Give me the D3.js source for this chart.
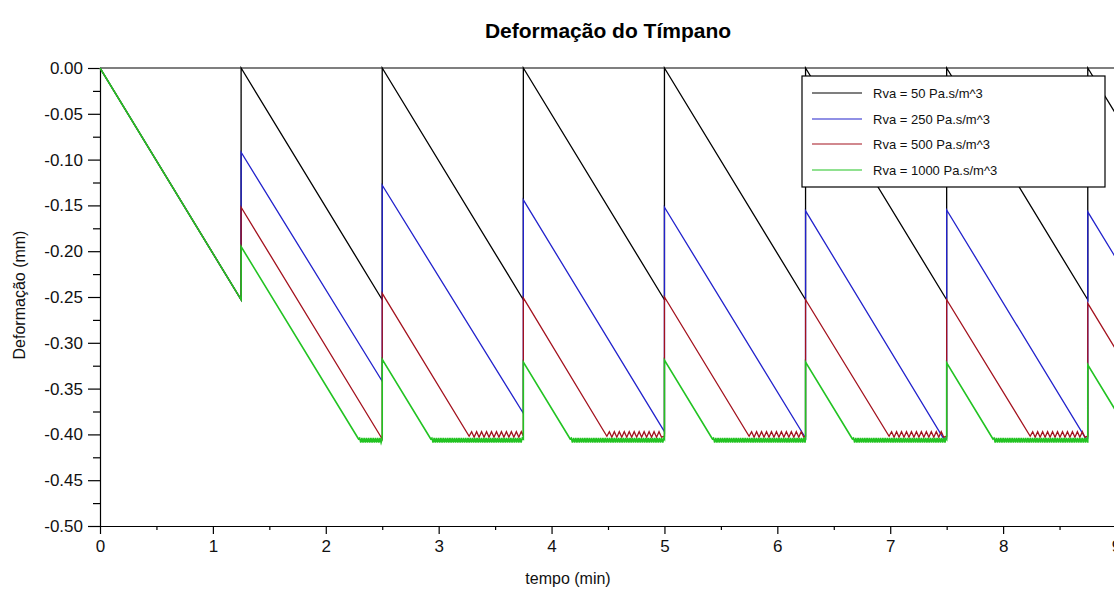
<!DOCTYPE html>
<html>
<head>
<meta charset="utf-8">
<script src="https://cdn.jsdelivr.net/npm/d3@7"></script>
<style>
  html, body { margin: 0; padding: 0; background: #fff; }
  svg { display: block; font-family: "Liberation Sans", Arial, Helvetica, sans-serif; }
</style>
</head>
<body>
<svg id="chart" width="1114" height="596"></svg>
<script>
// ---------- data ----------
const title = "Deformação do Tímpano";
const xLabel = "tempo (min)";
const yLabel = "Deformação (mm)";

const xTicks = [0, 1, 2, 3, 4, 5, 6, 7, 8, 9];
const xTickLabels = ["0", "1", "2", "3", "4", "5", "6", "7", "8", "9"];
const xMinorTicks = [0.5, 1.5, 2.5, 3.5, 4.5, 5.5, 6.5, 7.5, 8.5];
const yTicks = [0, -0.05, -0.10, -0.15, -0.20, -0.25, -0.30, -0.35, -0.40, -0.45, -0.50];
const yTickLabels = ["0.00", "-0.05", "-0.10", "-0.15", "-0.20", "-0.25", "-0.30", "-0.35", "-0.40", "-0.45", "-0.50"];
const yMinorTicks = [-0.025, -0.075, -0.125, -0.175, -0.225, -0.275, -0.325, -0.375, -0.425, -0.475];

const seriesNames = ["Rva = 50 Pa.s/m^3", "Rva = 250 Pa.s/m^3", "Rva = 500 Pa.s/m^3", "Rva = 1000 Pa.s/m^3"];
const seriesColors = ["#000000", "#2222cc", "#a3121e", "#22c322"];
const seriesWidths = [1.3, 1.3, 1.3, 1.6];

// vertices [t, value, rippleFlag]; rippleFlag 1 = segment to next vertex is the rippled floor
const rva50 = [
  [0, 0], [1.25, -0.253], [1.25, 0], [2.5, -0.253], [2.5, 0], [3.75, -0.253], [3.75, 0],
  [5, -0.253], [5, 0], [6.25, -0.253], [6.25, 0], [7.5, -0.253], [7.5, 0], [8.75, -0.253], [8.75, 0], [10, -0.253]
];
const rva250 = [
  [0, 0], [1.25, -0.253], [1.25, -0.092], [2.5, -0.342], [2.5, -0.128], [3.75, -0.377], [3.75, -0.144],
  [5, -0.397], [5, -0.152], [6.25, -0.404], [6.25, -0.156], [7.47, -0.404], [7.5, -0.404], [7.5, -0.155],
  [8.73, -0.404], [8.75, -0.404], [8.75, -0.157], [10, -0.410]
];
const rva500 = [
  [0, 0], [1.25, -0.253], [1.25, -0.152], [2.5, -0.405], [2.5, -0.246], [3.27, -0.402, 1], [3.75, -0.402],
  [3.75, -0.251], [4.49, -0.402, 1], [5, -0.402], [5, -0.250], [5.75, -0.402, 1], [6.25, -0.402],
  [6.25, -0.253], [6.99, -0.402, 1], [7.5, -0.402], [7.5, -0.253], [8.24, -0.402, 1], [8.75, -0.402],
  [8.75, -0.257], [10, -0.510]
];
const rva1000 = [
  [0, 0], [1.25, -0.253], [1.25, -0.195], [2.29, -0.405, 1], [2.5, -0.405], [2.5, -0.318], [2.93, -0.405, 1],
  [3.75, -0.405], [3.75, -0.321], [4.165, -0.405, 1], [5, -0.405], [5, -0.319], [5.425, -0.405, 1],
  [6.25, -0.405], [6.25, -0.321], [6.665, -0.405, 1], [7.5, -0.405], [7.5, -0.322], [7.91, -0.405, 1],
  [8.75, -0.405], [8.75, -0.324], [9.15, -0.405, 1], [10, -0.405]
];
// ripple on the floor segments: [period (min), high value, low value]
const rippleRva500 = [0.044, -0.397, -0.403];
const rippleRva1000 = [0.02, -0.404, -0.409];

// ---------- drawing ----------
const svg = d3.select("#chart");
svg.append("rect").attr("width", 1114).attr("height", 596).attr("fill", "#fff");

const x = d3.scaleLinear().domain([0, 9]).range([100, 1116]);
const y = d3.scaleLinear().domain([-0.5, 0]).range([526, 68]);

svg.append("defs").append("clipPath").attr("id", "plotclip")
  .append("rect").attr("x", 99).attr("y", 60).attr("width", 1030).attr("height", 470);

// title & labels
svg.append("text").attr("x", 608).attr("y", 38).attr("text-anchor", "middle")
  .attr("font-size", 21).attr("font-weight", "bold").attr("fill", "#000").text(title);
svg.append("text").attr("x", 568).attr("y", 584).attr("text-anchor", "middle")
  .attr("font-size", 16).attr("fill", "#111").text(xLabel);
svg.append("text").attr("transform", "translate(25,295) rotate(-90)").attr("text-anchor", "middle")
  .attr("font-size", 16).attr("fill", "#111").text(yLabel);

// axes
const yAxis = d3.axisLeft(y).tickValues(yTicks).tickSize(12).tickSizeOuter(0).tickPadding(5)
  .tickFormat((d, i) => yTickLabels[i]);
const gy = svg.append("g").attr("transform", "translate(100,0)").call(yAxis);
const gyMinor = svg.append("g").attr("transform", "translate(100,0)")
  .call(d3.axisLeft(y).tickValues(yMinorTicks).tickSize(7).tickSizeOuter(0).tickFormat(""));
gyMinor.select(".domain").remove();

const xAxis = d3.axisBottom(x).tickValues(xTicks).tickSize(8).tickSizeOuter(0).tickPadding(6)
  .tickFormat((d, i) => xTickLabels[i]);
const gx = svg.append("g").attr("transform", "translate(0,526)").call(xAxis);
const gxMinor = svg.append("g").attr("transform", "translate(0,526)")
  .call(d3.axisBottom(x).tickValues(xMinorTicks).tickSize(4).tickSizeOuter(0).tickFormat(""));
gxMinor.select(".domain").remove();

[gy, gx].forEach(g => {
  g.selectAll("text").attr("font-size", 17).attr("fill", "#111")
    .attr("font-family", "'Liberation Sans', Arial, sans-serif");
});
svg.selectAll(".domain, .tick line").attr("stroke", "#000").attr("stroke-width", 1.2);

// top frame line
svg.append("line").attr("x1", x(0)).attr("x2", x(9)).attr("y1", y(0)).attr("y2", y(0))
  .attr("stroke", "#000").attr("stroke-width", 1.2);

// build path points with ripple floors
function buildPoints(verts, ripple) {
  const pts = [];
  for (let i = 0; i < verts.length; i++) {
    const v = verts[i];
    pts.push([v[0], v[1]]);
    if (v[2] && ripple && i + 1 < verts.length) {
      const t0 = v[0], t1 = verts[i + 1][0];
      const [p, hi, lo] = ripple;
      for (let t = t0 + p / 2; t < t1 - p / 4; t += p) {
        pts.push([t, hi]);
        if (t + p / 2 < t1) pts.push([t + p / 2, lo]);
      }
    }
  }
  return pts;
}

const line = d3.line().x(d => x(d[0])).y(d => y(d[1]));
const plot = svg.append("g").attr("clip-path", "url(#plotclip)");
const allSeries = [[rva50, null], [rva250, null], [rva500, rippleRva500], [rva1000, rippleRva1000]];
allSeries.forEach(([verts, ripple], i) => {
  plot.append("path").datum(buildPoints(verts, ripple))
    .attr("d", line).attr("fill", "none")
    .attr("stroke", seriesColors[i]).attr("stroke-width", seriesWidths[i])
    .attr("stroke-linejoin", "miter");
});

// legend
const lg = svg.append("g");
lg.append("rect").attr("x", 802).attr("y", 76).attr("width", 303).attr("height", 111)
  .attr("fill", "#fff").attr("stroke", "#000").attr("stroke-width", 1.2);
const rowsY = [93, 119, 144, 170];
seriesNames.forEach((name, i) => {
  lg.append("line").attr("x1", 812).attr("x2", 862).attr("y1", rowsY[i]).attr("y2", rowsY[i])
    .attr("stroke", seriesColors[i]).attr("stroke-width", 1.2);
  lg.append("text").attr("x", 873).attr("y", rowsY[i]).attr("dy", "0.35em")
    .attr("font-size", 13).attr("fill", "#111").text(name);
});
</script>
</body>
</html>
